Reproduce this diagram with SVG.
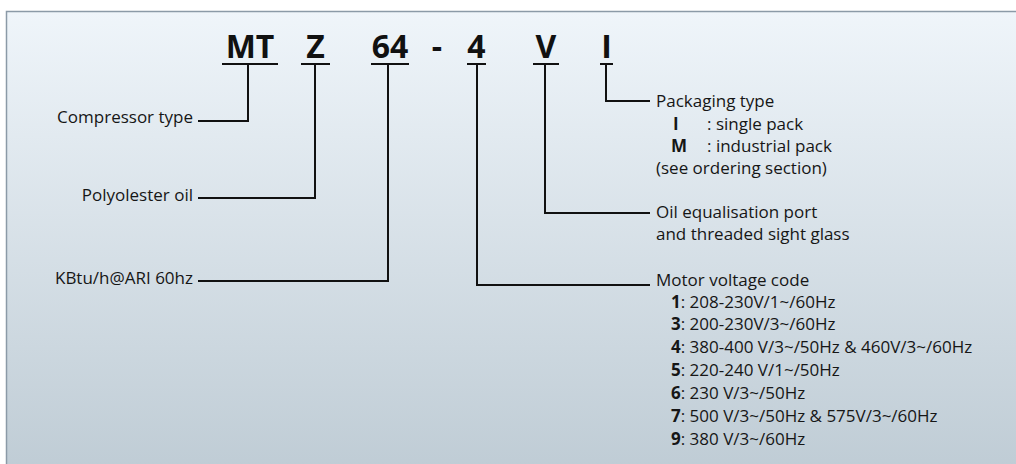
<svg xmlns="http://www.w3.org/2000/svg" width="1016" height="464" viewBox="0 0 1016 464">
<defs>
<linearGradient id="bg" x1="0" y1="0" x2="0" y2="1">
<stop offset="0" stop-color="#eff5fa"/>
<stop offset="1" stop-color="#bfccd5"/>
</linearGradient>
<style>
.t{font-family:"Open Sans","Noto Sans",sans-serif;font-size:17px;fill:#161616}
.b{font-weight:bold}
.h{font-family:"Open Sans","Noto Sans",sans-serif;font-size:32px;font-weight:bold;fill:#111;text-anchor:middle}
.ln{fill:none;stroke:#111;stroke-width:2}
.ul{fill:#111}
.r{text-anchor:end}
</style>
</defs>
<rect x="0" y="0" width="1016" height="464" fill="#fff"/>
<rect x="6.5" y="11.5" width="1020" height="460" fill="url(#bg)" stroke="#8b9aa7" stroke-width="1.5"/>
<g id="code">
<text class="h" x="250" y="58">MT</text>
<text class="h" x="315.5" y="58">Z</text>
<text class="h" x="390" y="58">64</text>
<text class="h" x="437" y="58">-</text>
<text class="h" x="476.5" y="58">4</text>
<text class="h" x="546" y="58">V</text>
<text class="h" x="606.5" y="58">I</text>
<rect class="ul" x="222" y="63" width="56" height="2"/>
<rect class="ul" x="301" y="63" width="29" height="2"/>
<rect class="ul" x="371" y="63" width="38" height="2"/>
<rect class="ul" x="467" y="63" width="19" height="2"/>
<rect class="ul" x="533" y="63" width="26" height="2"/>
<rect class="ul" x="600" y="63" width="13" height="2"/>
</g>
<g id="connectors">
<path class="ln" d="M248 64V121H198"/>
<path class="ln" d="M315 64V198H198"/>
<path class="ln" d="M388 64V281H198"/>
<path class="ln" d="M477 64V285H650"/>
<path class="ln" d="M545 64V213H650"/>
<path class="ln" d="M606 64V101H650"/>
</g>
<g id="compressor-type"><text class="t r" x="193" y="123">Compressor type</text></g>
<g id="polyolester-oil"><text class="t r" x="193" y="201">Polyolester oil</text></g>
<g id="kbtu"><text class="t r" x="193" y="284">KBtu/h@ARI 60hz</text></g>
<g id="packaging">
<text class="t" x="656" y="107">Packaging type</text>
<text class="t b" x="673" y="129.5">I</text><text class="t" x="707" y="129.5">: single pack</text>
<text class="t b" x="671" y="151.5">M</text><text class="t" x="707" y="151.5">: industrial pack</text>
<text class="t" x="656" y="173.5">(see ordering section)</text>
</g>
<g id="oil-equalisation">
<text class="t" x="656" y="218">Oil equalisation port</text>
<text class="t" x="656" y="240">and threaded sight glass</text>
</g>
<g id="motor-voltage">
<text class="t" x="656" y="286">Motor voltage code</text>
<text class="t" x="671" y="307.5"><tspan class="b">1</tspan>: 208-230V/1~/60Hz</text>
<text class="t" x="671" y="330"><tspan class="b">3</tspan>: 200-230V/3~/60Hz</text>
<text class="t" x="671" y="353"><tspan class="b">4</tspan>: 380-400 V/3~/50Hz &amp; 460V/3~/60Hz</text>
<text class="t" x="671" y="376"><tspan class="b">5</tspan>: 220-240 V/1~/50Hz</text>
<text class="t" x="671" y="399"><tspan class="b">6</tspan>: 230 V/3~/50Hz</text>
<text class="t" x="671" y="422"><tspan class="b">7</tspan>: 500 V/3~/50Hz &amp; 575V/3~/60Hz</text>
<text class="t" x="671" y="444.5"><tspan class="b">9</tspan>: 380 V/3~/60Hz</text>
</g>
</svg>
